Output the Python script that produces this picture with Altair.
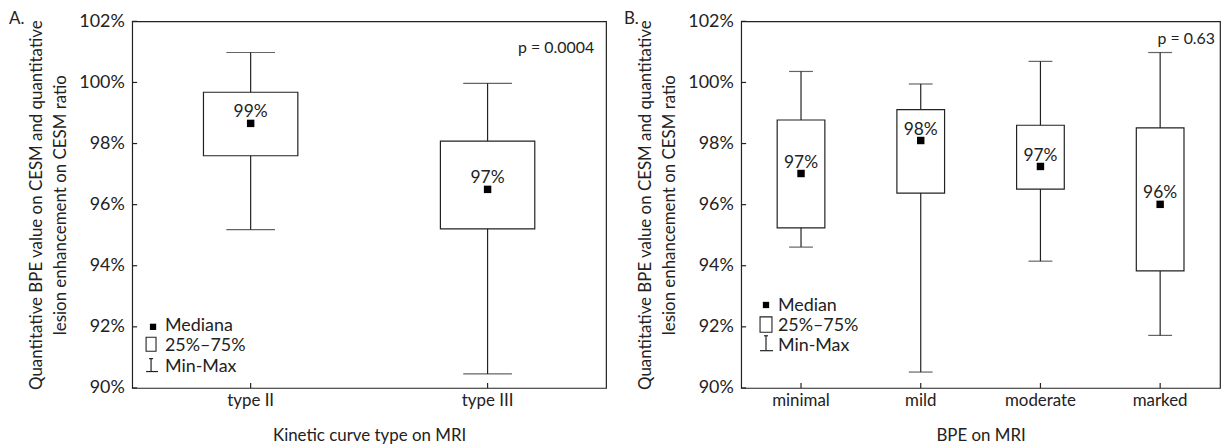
import altair as alt
import pandas as pd

# ---------------- data ----------------
cats_a = ["type II", "type III"]
min_a = [95.18, 90.46]
q1_a = [97.60, 95.21]
med_a = [98.66, 96.50]
q3_a = [99.68, 98.08]
max_a = [100.98, 99.97]
lbl_a = ["99%", "97%"]

cats_b = ["minimal", "mild", "moderate", "marked"]
min_b = [94.61, 90.52, 94.15, 91.72]
q1_b = [95.24, 96.38, 96.51, 93.83]
med_b = [97.02, 98.10, 97.25, 96.01]
q3_b = [98.77, 99.11, 98.60, 98.51]
max_b = [100.36, 99.95, 100.69, 100.98]
lbl_b = ["97%", "98%", "97%", "96%"]

y_ticks = [90, 92, 94, 96, 98, 100, 102]
y_title = ["Quantitative BPE value on CESM and quantitative",
           "lesion enhancement on CESM ratio"]

FONT = "Lato"
INK = "#222222"
H = 369
one = pd.DataFrame({"k": [0]})


def txt(s, x, y, align="left", size=18):
    return alt.Chart(one).mark_text(
        text=s, align=align, baseline="middle", font=FONT, fontSize=size, color=INK
    ).encode(x=alt.value(x), y=alt.value(y))


def seg(x1, x2, y1, y2):
    return alt.Chart(one).mark_rule(color=INK, strokeWidth=1.2).encode(
        x=alt.value(x1), x2=alt.value(x2), y=alt.value(y1), y2=alt.value(y2))


def panel(cats, mins, q1s, meds, q3s, maxs, lbls, width, box_w, cap_w,
          xtitle, letter, letter_x, ptext, p_x, p_y, leg):
    df = pd.DataFrame({"cat": cats, "mn": mins, "q1": q1s, "med": meds,
                       "q3": q3s, "mx": maxs, "lbl": lbls})
    ticks_df = pd.DataFrame({"v": y_ticks})
    yscale = alt.Scale(domain=[90, 102], nice=False, zero=False)
    yaxis = alt.Axis(values=y_ticks, labelExpr="datum.value + '%'",
                     ticks=False, domain=False, grid=False, labelFontSize=18,
                     titleFontSize=17, title=y_title, labelPadding=8, titlePadding=9)
    xaxis = alt.Axis(title=xtitle, labelAngle=0, ticks=False, labelFontSize=17,
                     titleFontSize=17, domain=False, labelPadding=5, titlePadding=19)

    def X():
        return alt.X("cat:N", sort=cats,
                     scale=alt.Scale(paddingInner=0, paddingOuter=0), axis=xaxis)

    def Y(f):
        return alt.Y(f, scale=yscale, axis=yaxis, title=y_title)

    base = alt.Chart(df)

    whisk = base.mark_rule(color=INK, strokeWidth=1.2).encode(
        x=X(), y=Y("mn:Q"), y2="mx:Q")
    box = base.mark_bar(width=box_w, fill="white", stroke=INK, strokeWidth=1.2).encode(
        x=X(), y=Y("q1:Q"), y2="q3:Q")
    cap_lo = base.mark_tick(size=cap_w, thickness=1.2, color=INK, orient="horizontal").encode(
        x=X(), y=Y("mn:Q"))
    cap_hi = base.mark_tick(size=cap_w, thickness=1.2, color=INK, orient="horizontal").encode(
        x=X(), y=Y("mx:Q"))
    med = base.mark_square(size=56, color="black", opacity=1).encode(
        x=X(), y=Y("med:Q"))
    lab = base.mark_text(font=FONT, fontSize=17.5, color=INK, baseline="alphabetic",
                         dy=-6).encode(x=X(), y=Y("med:Q"), text="lbl:N")
    xt = base.mark_rule(color=INK, strokeWidth=1.2).encode(
        x=X(), y=alt.value(H), y2=alt.value(H - 5))
    yt = alt.Chart(ticks_df).mark_rule(color=INK, strokeWidth=1.2).encode(
        y=Y("v:Q"), x=alt.value(0), x2=alt.value(5))

    layers = [whisk, box, cap_lo, cap_hi, med, lab, xt, yt,
              txt(letter, letter_x, -2, size=17),
              txt(ptext, p_x, p_y, align="right", size=16)]
    # legend
    sq = alt.Chart(one).mark_square(size=40, color="black", opacity=1).encode(
        x=alt.value(leg["sq"][0]), y=alt.value(leg["sq"][1]))
    rb = alt.Chart(one).mark_rect(fill="white", stroke=INK, strokeWidth=1.1).encode(
        x=alt.value(leg["rect"][0]), x2=alt.value(leg["rect"][1]),
        y=alt.value(leg["rect"][2]), y2=alt.value(leg["rect"][3]))
    wx, wy1, wy2, cx1, cx2 = leg["wh"]
    layers += [sq, rb,
               seg(wx, wx, wy1, wy2), seg(cx1, cx2, wy2, wy2),
               seg(wx - 2, wx + 2, wy1, wy1),
               txt(leg["t"][0], leg["tx"], leg["ty"][0]),
               txt("25%\u201375%", leg["tx"], leg["ty"][1]),
               txt("Min-Max", leg["tx"], leg["ty"][2])]
    return alt.layer(*layers).properties(width=width, height=H)


leg_a = {"sq": (21, 307.5), "rect": (14, 24, 318, 332),
         "wh": (19, 339.5, 352.5, 14, 26), "tx": 33,
         "ty": (307, 327, 348), "t": ("Mediana",)}
leg_b = {"sq": (25, 285.5), "rect": (19, 31, 297.5, 313),
         "wh": (25, 316.5, 331.5, 19, 32), "tx": 37,
         "ty": (286.5, 307, 327), "t": ("Median",)}

pa = panel(cats_a, min_a, q1_a, med_a, q3_a, max_a, lbl_a, 477, 95, 49,
           "Kinetic curve type on MRI", "A.", -124, "p = 0.0004", 465, 27, leg_a)
pb = panel(cats_b, min_b, q1_b, med_b, q3_b, max_b, lbl_b, 482, 48, 24,
           "BPE on MRI", "B.", -118, "p = 0.63", 477, 18, leg_b)

chart = alt.hconcat(pa, pb, spacing=16).properties(padding=0).configure_view(
    stroke=INK, strokeWidth=1.2
).configure_axis(
    labelFont=FONT, labelColor=INK,
    titleFont=FONT, titleColor=INK, titleFontWeight="normal",
    titleLineHeight=25
)

chart.save("out.html", embed_options={"renderer": "svg", "actions": False})
